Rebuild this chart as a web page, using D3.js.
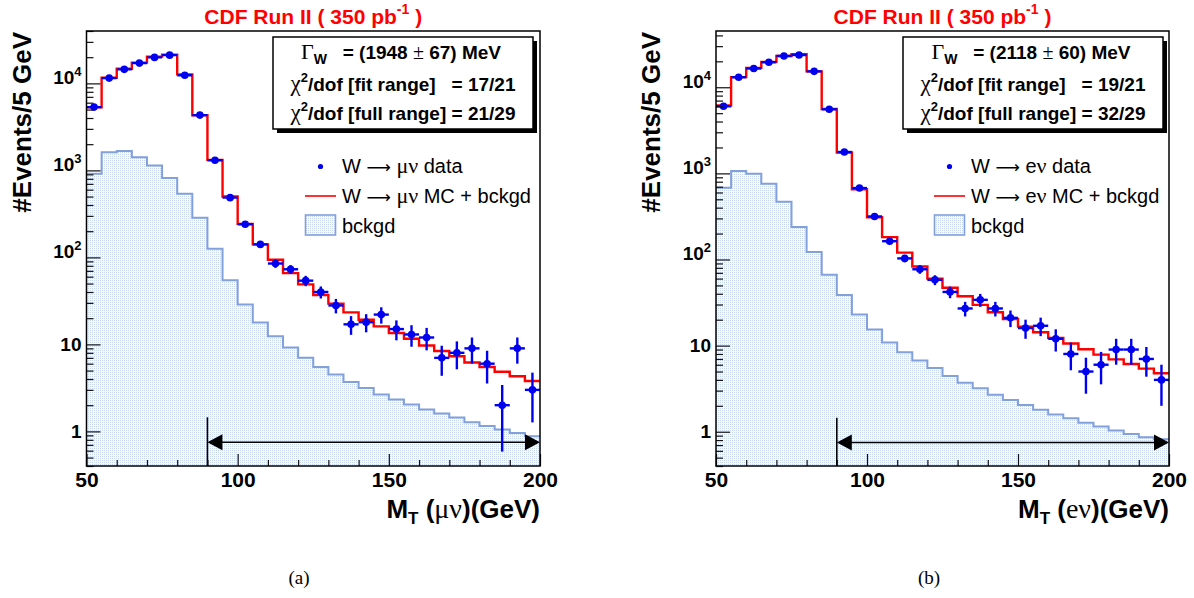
<!DOCTYPE html>
<html>
<head>
<meta charset="utf-8">
<script src="https://cdn.jsdelivr.net/npm/d3@7"></script>
<style>
  body { margin: 0; background: #fff; }
  svg { font-family: "Liberation Sans", Arial, Helvetica, sans-serif; }
</style>
</head>
<body>
<svg id="chart"></svg>
<script>
// bins of 5 GeV in transverse mass
var binLow = [50, 55, 60, 65, 70, 75, 80, 85, 90, 95, 100, 105, 110, 115, 120,
  125, 130, 135, 140, 145, 150, 155, 160, 165, 170, 175, 180, 185, 190, 195]
var binWidth = 5
var xRange = [50, 200]
var fitRange = [90, 200]

// W -> mu nu
var muData = [5340, 11500, 14500, 17100, 19900, 21100, 12400, 4320, 1310, 486, 240, 141,
  85, 73, 54, 40, 28, 17, 18, 22, 15, 13, 12, 7, 8, 9, 6, 2, 9, 3]
var muMC = [5300, 11600, 14700, 17300, 20300, 21400, 12700, 4300, 1320, 500, 243, 141,
  94, 66, 49, 37, 29.4, 23.3, 19.2, 16.1, 13.5, 11.6, 9.7, 8.4, 7.3, 6.2, 5.5, 4.85, 4.3, 3.8]
var muBkg = [916, 1620, 1667, 1420, 1140, 816, 540, 286, 126, 54.5, 28.8, 17.9, 12.4, 9.2,
  7.0, 5.5, 4.5, 3.7, 3.15, 2.66, 2.33, 2.04, 1.79, 1.60, 1.44, 1.27, 1.15, 1.05, 0.96, 0.88]

// W -> e nu
var eData = [6010, 13070, 16500, 19500, 23100, 23700, 15300, 5550, 1770, 675, 316, 163,
  103, 77, 58, 42, 27, 34, 27, 21, 16, 17, 12, 8, 5, 6, 9, 9, 7, 4]
var eMC = [6130, 13100, 16800, 19700, 23100, 24200, 15300, 5600, 1750, 655, 310, 182,
  120, 83, 60, 47, 37.5, 29.7, 24.4, 20.4, 16.6, 14.3, 12.3, 10.6, 9.06, 7.86, 6.93, 6.12, 5.4, 4.77]
var eBkg = [682, 1064, 993, 759, 469, 238, 122, 66.4, 38.8, 22.9, 15.4, 10.9, 8.36, 6.7,
  5.5, 4.44, 3.71, 3.19, 2.69, 2.34, 2.04, 1.80, 1.58, 1.43, 1.27, 1.15, 1.03, 0.94, 0.86, 0.82]

var xTicksMajor = [50, 100, 150, 200]
var xTicksMinor = [60, 70, 80, 90, 110, 120, 130, 140, 160, 170, 180, 190]
var yTicksMajor = [1, 10, 100, 1000, 10000]

var muFit = ['1948', '67', '17/21', '21/29']
var eFit = ['2118', '60', '19/21', '32/29']

var blue = '#0000f0'
var red = '#ff0000'
var bkgLine = '#82a0da'
var serif = '"Liberation Serif", "DejaVu Serif", serif'
var sans = '"Liberation Sans", Arial, Helvetica, sans-serif'
var arrowFont = '"DejaVu Sans", sans-serif'

var W = 1194, H = 598
var svg = d3.select('#chart').attr('width', W).attr('height', H)
svg.append('rect').attr('width', W).attr('height', H).attr('fill', '#fff')

var defs = svg.append('defs')
var pat = defs.append('pattern').attr('id', 'dots')
  .attr('width', 2).attr('height', 2).attr('patternUnits', 'userSpaceOnUse')
pat.append('rect').attr('width', 2).attr('height', 2).attr('fill', '#f8fafd')
pat.append('rect').attr('width', 1).attr('height', 1).attr('fill', '#c9d6ef')

// write a text made of pieces (greek, sub/superscripts)
function rich (sel, segs) {
  var cur = 0
  segs.forEach(function (s) {
    var off = s.dy || 0
    sel.append('tspan')
      .attr('dy', off - cur)
      .style('font-family', s.font || (s.serif ? serif : sans))
      .attr('font-weight', s.bold ? 'bold' : 'normal')
      .attr('font-size', s.size || null)
      .text(s.t)
    cur = off
  })
}

function panel (cfg) {
  var g = svg.append('g')
  var x = d3.scaleLinear().domain(xRange).range([cfg.x0, cfg.x1])
  var y = d3.scaleLog().domain(cfg.yDomain).range([cfg.yBot, cfg.yTop])

  var clipId = 'clip' + cfg.id
  defs.append('clipPath').attr('id', clipId).append('rect')
    .attr('x', cfg.x0).attr('y', cfg.yTop)
    .attr('width', cfg.x1 - cfg.x0).attr('height', cfg.yBot - cfg.yTop)
  var plot = g.append('g').attr('clip-path', 'url(#' + clipId + ')')

  function steps (vals) {
    return binLow.map(function (lo, i) { return [lo, vals[i]] })
      .concat([[xRange[1], vals[vals.length - 1]]])
  }

  // background
  var area = d3.area().curve(d3.curveStepAfter)
    .x(function (d) { return x(d[0]) })
    .y0(cfg.yBot)
    .y1(function (d) { return y(d[1]) })
  var line = d3.line().curve(d3.curveStepAfter)
    .x(function (d) { return x(d[0]) })
    .y(function (d) { return y(d[1]) })
  plot.append('path').attr('d', area(steps(cfg.bkg))).attr('fill', 'url(#dots)')
  plot.append('path').attr('d', line(steps(cfg.bkg))).attr('fill', 'none')
    .attr('stroke', bkgLine).attr('stroke-width', 2)

  // fit range arrow
  var ay = y(cfg.arrowY)
  plot.append('line').attr('x1', x(fitRange[0])).attr('x2', x(fitRange[0]))
    .attr('y1', y(cfg.arrowTop)).attr('y2', cfg.yBot)
    .attr('stroke', '#000').attr('stroke-width', 1.6)
  plot.append('line').attr('x1', x(fitRange[0]) + 8).attr('x2', x(fitRange[1]) - 8)
    .attr('y1', ay).attr('y2', ay).attr('stroke', '#000').attr('stroke-width', 1.6)
  plot.append('path').attr('fill', '#000')
    .attr('d', 'M' + x(fitRange[0]) + ',' + ay + 'l15,-8v16z')
  plot.append('path').attr('fill', '#000')
    .attr('d', 'M' + x(fitRange[1]) + ',' + ay + 'l-15,-8v16z')

  // MC + background
  plot.append('path').attr('d', line(steps(cfg.mc))).attr('fill', 'none')
    .attr('stroke', red).attr('stroke-width', 2.4).attr('stroke-linejoin', 'miter')

  // data points with sqrt(N) errors
  var pts = plot.selectAll('g.pt').data(cfg.data).enter().append('g').attr('class', 'pt')
  pts.append('line')
    .attr('x1', function (d, i) { return x(binLow[i]) })
    .attr('x2', function (d, i) { return x(binLow[i] + binWidth) })
    .attr('y1', function (d) { return y(d) }).attr('y2', function (d) { return y(d) })
    .attr('stroke', blue).attr('stroke-width', 2.4)
  pts.append('line')
    .attr('x1', function (d, i) { return x(binLow[i] + binWidth / 2) })
    .attr('x2', function (d, i) { return x(binLow[i] + binWidth / 2) })
    .attr('y1', function (d) { return y(d + Math.sqrt(d)) })
    .attr('y2', function (d) { return y(Math.max(d - Math.sqrt(d), cfg.yDomain[0])) })
    .attr('stroke', blue).attr('stroke-width', 2.4)
  pts.append('circle')
    .attr('cx', function (d, i) { return x(binLow[i] + binWidth / 2) })
    .attr('cy', function (d) { return y(d) })
    .attr('r', 3.8).attr('fill', blue)

  // axes
  var axMinor = d3.axisBottom(x).tickValues(xTicksMinor).tickSize(-6).tickFormat('')
  var axMajor = d3.axisBottom(x).tickValues(xTicksMajor).tickSize(-12).tickPadding(6)
    .tickFormat(d3.format('d'))
  g.append('g').attr('transform', 'translate(0,' + cfg.yBot + ')').call(axMinor)
  var gx2 = g.append('g').attr('transform', 'translate(0,' + cfg.yBot + ')').call(axMajor)
  gx2.selectAll('text').attr('font-size', 21).attr('font-weight', 'bold')
    .style('font-family', sans).attr('fill', '#000')

  var yMinor = []
  ;[0.1, 1, 10, 100, 1000, 10000].forEach(function (dec) {
    for (var k = 2; k <= 9; k++) {
      var v = dec * k
      if (v >= cfg.yDomain[0] && v <= cfg.yDomain[1]) yMinor.push(v)
    }
  })
  var ayMinor = d3.axisLeft(y).tickValues(yMinor).tickSize(-7).tickFormat('')
  var ayMajor = d3.axisLeft(y).tickValues(yTicksMajor).tickSize(-14).tickPadding(5)
    .tickFormat(function (d) { return d })
  g.append('g').attr('transform', 'translate(' + cfg.x0 + ',0)').call(ayMinor)
  var gy = g.append('g').attr('transform', 'translate(' + cfg.x0 + ',0)').call(ayMajor)
  gy.selectAll('text').attr('font-size', 19).attr('font-weight', 'bold')
    .style('font-family', sans).attr('fill', '#000')
    .each(function (d) {
      var t = d3.select(this)
      var e = Math.round(Math.log10(d))
      if (e >= 2) {
        t.text('')
        rich(t, [{ t: '10', bold: true }, { t: String(e), bold: true, size: 13, dy: -8 }])
      }
    })
  g.selectAll('.domain').remove()
  g.selectAll('.tick line').attr('stroke', '#111').attr('stroke-width', 1.2)

  // frame
  g.append('rect').attr('x', cfg.x0).attr('y', cfg.yTop)
    .attr('width', cfg.x1 - cfg.x0).attr('height', cfg.yBot - cfg.yTop)
    .attr('fill', 'none').attr('stroke', '#000').attr('stroke-width', 1.5)

  // titles
  var tt = g.append('text').attr('x', (cfg.x0 + cfg.x1) / 2).attr('y', 24)
    .attr('text-anchor', 'middle').attr('fill', red).attr('font-size', 21).attr('font-weight', 'bold')
  rich(tt, [{ t: 'CDF Run II ( 350 pb', bold: true }, { t: '-1', bold: true, size: 14, dy: -10 },
    { t: ' )', bold: true }])

  g.append('text').attr('transform', 'translate(' + cfg.yTitleX + ',' + (cfg.yTop + 1) + ') rotate(-90)')
    .attr('text-anchor', 'end').attr('font-size', 26).attr('font-weight', 'bold')
    .text('#Events/5 GeV')

  var xt = g.append('text').attr('x', cfg.x1).attr('y', 518).attr('text-anchor', 'end')
    .attr('font-size', 26).attr('font-weight', 'bold')
  rich(xt, [{ t: 'M', bold: true }, { t: 'T', bold: true, size: 17, dy: 6 },
    { t: ' (', bold: true }, { t: cfg.lep, serif: true, size: 28 }, { t: ')(GeV)', bold: true }])

  // fit result box
  var bx = cfg.boxX, by = 37, bw = 260, bh = 92
  g.append('rect').attr('x', bx + 4).attr('y', by + 4).attr('width', bw).attr('height', bh).attr('fill', '#000')
  g.append('rect').attr('x', bx).attr('y', by).attr('width', bw).attr('height', bh)
    .attr('fill', '#fff').attr('stroke', '#000').attr('stroke-width', 1.5)
  var cx = bx + bw / 2
  var l1 = g.append('text').attr('x', cx - 2).attr('y', by + 22).attr('text-anchor', 'middle')
    .attr('font-size', 19).style('white-space', 'pre')
  rich(l1, [{ t: 'Γ', serif: true, size: 22 }, { t: 'W', bold: true, size: 14, dy: 5 },
    { t: '   = (' + cfg.fit[0] + ' ', bold: true }, { t: '±', serif: true, size: 20 },
    { t: ' ' + cfg.fit[1] + ') MeV', bold: true }])
  var l2 = g.append('text').attr('x', cx).attr('y', by + 54).attr('text-anchor', 'middle')
    .attr('font-size', 19).style('white-space', 'pre')
  rich(l2, [{ t: 'χ', serif: true, size: 23 }, { t: '2', bold: true, size: 13, dy: -9 },
    { t: '/dof [fit range]   = ' + cfg.fit[2], bold: true }])
  var l3 = g.append('text').attr('x', cx).attr('y', by + 83).attr('text-anchor', 'middle')
    .attr('font-size', 19).style('white-space', 'pre')
  rich(l3, [{ t: 'χ', serif: true, size: 23 }, { t: '2', bold: true, size: 13, dy: -9 },
    { t: '/dof [full range] = ' + cfg.fit[3], bold: true }])

  // legend
  var lx = cfg.legendX
  g.append('circle').attr('cx', lx + 15.5).attr('cy', 166.5).attr('r', 2.6).attr('fill', blue)
  g.append('line').attr('x1', lx).attr('x2', lx + 31).attr('y1', 196).attr('y2', 196)
    .attr('stroke', red).attr('stroke-width', 1.6)
  g.append('rect').attr('x', lx + 0.5).attr('y', 215).attr('width', 30).attr('height', 20)
    .attr('fill', 'url(#dots)').attr('stroke', bkgLine).attr('stroke-width', 1.6)
  var tx = lx + 37
  var lepSegs = function (tail) {
    return [{ t: 'W ' }, { t: '⟶', font: arrowFont, size: 17 }, { t: ' ' },
      { t: cfg.lepLeg[0], serif: cfg.lepLeg[0] !== 'e', size: cfg.lepLeg[0] !== 'e' ? 22 : null },
      { t: cfg.lepLeg[1], serif: true, size: 22 }, { t: tail }]
  }
  var e1 = g.append('text').attr('x', tx).attr('y', 173).attr('font-size', 20)
  rich(e1, lepSegs(' data'))
  var e2 = g.append('text').attr('x', tx).attr('y', 203).attr('font-size', 20)
  rich(e2, lepSegs(' MC + bckgd'))
  g.append('text').attr('x', tx).attr('y', 233).attr('font-size', 20).text('bckgd')

  // caption
  g.append('text').attr('x', cfg.capX).attr('y', 584).attr('text-anchor', 'middle')
    .style('font-family', serif).attr('font-size', 19).text(cfg.caption)
}

panel({
  id: 'a', x0: 86.5, x1: 540, yTop: 31, yBot: 466, yDomain: [0.4, 40000],
  data: muData, mc: muMC, bkg: muBkg, fit: muFit,
  arrowY: 0.75, arrowTop: 1.45, lep: 'μν', lepLeg: ['μ', 'ν'],
  yTitleX: 31, boxX: 273, legendX: 305, capX: 299, caption: '(a)'
})
panel({
  id: 'b', x0: 716, x1: 1169, yTop: 31, yBot: 466, yDomain: [0.4, 45000],
  data: eData, mc: eMC, bkg: eBkg, fit: eFit,
  arrowY: 0.75, arrowTop: 1.45, lep: 'eν', lepLeg: ['e', 'ν'],
  yTitleX: 660, boxX: 903, legendX: 934, capX: 929, caption: '(b)'
})
</script>
</body>
</html>
